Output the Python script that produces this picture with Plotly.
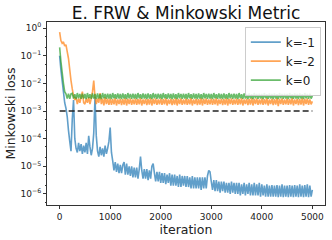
import numpy as np
import plotly.graph_objects as go

iterations = list(range(0, 5001, 25))

# log10 of Minkowski loss (every 25 iterations)
k_m1_log10 = [
    -1.0, -1.5, -1.9, -2.3, -2.7, -2.9, -3.2, -3.7, -4.1, -4.45,
    -3.3, -2.6, -4.0, -4.35, -4.5, -4.15, -4.45, -4.2, -4.55, -4.25,
    -4.5, -4.15, -4.55, -3.9, -4.3, -4.6, -4.35, -3.8, -2.5, -3.9,
    -4.45, -4.65, -4.3, -4.6, -4.35, -4.65, -4.25, -4.55, -4.35, -4.1,
    -3.6, -4.5, -4.8, -5.15, -4.85, -5.2, -4.9, -5.25, -4.95, -5.25,
    -4.95, -4.85, -5.3, -4.9, -5.3, -5.0, -5.35, -5.0, -5.4, -5.05,
    -5.4, -5.05, -5.45, -5.1, -4.65, -5.15, -5.45, -5.1, -5.45, -5.1,
    -5.5, -5.15, -5.45, -5.0, -4.9, -5.25, -5.55, -5.2, -5.55, -5.2,
    -5.6, -5.25, -5.6, -5.25, -5.65, -5.3, -5.6, -5.25, -5.7, -5.3,
    -5.7, -5.3, -5.7, -5.35, -5.75, -5.3, -5.75, -5.35, -5.7, -5.35,
    -5.75, -5.35, -5.75, -5.4, -5.8, -5.35, -5.8, -5.4, -5.8, -5.4,
    -5.8, -5.4, -5.85, -5.4, -5.8, -5.4, -5.8, -5.35, -5.15, -5.2,
    -5.55, -5.85, -5.5, -5.9, -5.5, -5.9, -5.55, -5.95, -5.55, -5.9,
    -5.55, -5.95, -5.6, -5.95, -5.6, -6.0, -5.55, -5.95, -5.6, -6.0,
    -5.6, -6.0, -5.6, -6.05, -5.65, -6.0, -5.6, -6.05, -5.65, -6.0,
    -5.6, -6.05, -5.65, -6.05, -5.6, -6.05, -5.65, -6.05, -5.6, -6.1,
    -5.65, -6.05, -5.7, -6.1, -5.65, -6.1, -5.7, -6.1, -5.68, -6.1,
    -5.7, -6.1, -5.68, -6.12, -5.7, -6.1, -5.65, -6.12, -5.7, -6.1,
    -5.7, -6.12, -5.68, -6.1, -5.7, -6.12, -5.68, -6.1, -5.7, -6.12,
    -5.65, -6.1, -5.7, -6.12, -5.68, -6.1, -5.65, -6.12, -5.7, -6.1,
    -5.85,
]
k_m2_log10 = [
    -0.15, -0.45, -0.55, -0.5, -0.65, -0.6, -0.85, -1.1, -1.5, -1.9,
    -2.2, -2.45, -2.6, -2.5, -2.75, -2.55, -2.7, -2.5, -2.3, -2.7,
    -2.75, -2.55, -2.7, -2.5, -2.75, -2.55, -2.3, -1.9, -2.5, -2.75,
    -2.55, -2.7, -2.35, -2.75, -2.55, -2.8, -2.5, -2.75, -2.55, -2.78,
    -2.54, -2.78, -2.57, -2.76, -2.53, -2.8, -2.58, -2.75, -2.55, -2.79,
    -2.57, -2.77, -2.53, -2.8, -2.56, -2.75, -2.54, -2.78, -2.58, -2.76,
    -2.54, -2.78, -2.57, -2.76, -2.53, -2.8, -2.58, -2.75, -2.55, -2.79,
    -2.57, -2.77, -2.53, -2.8, -2.56, -2.75, -2.54, -2.78, -2.58, -2.76,
    -2.54, -2.78, -2.57, -2.76, -2.53, -2.8, -2.58, -2.75, -2.55, -2.79,
    -2.57, -2.77, -2.53, -2.8, -2.56, -2.75, -2.54, -2.78, -2.58, -2.76,
    -2.54, -2.78, -2.57, -2.76, -2.53, -2.8, -2.58, -2.75, -2.55, -2.79,
    -2.57, -2.77, -2.53, -2.8, -2.56, -2.75, -2.54, -2.78, -2.58, -2.76,
    -2.54, -2.78, -2.57, -2.76, -2.53, -2.8, -2.58, -2.75, -2.55, -2.79,
    -2.57, -2.77, -2.53, -2.8, -2.56, -2.75, -2.54, -2.78, -2.58, -2.76,
    -2.54, -2.78, -2.57, -2.76, -2.53, -2.8, -2.58, -2.75, -2.55, -2.79,
    -2.57, -2.77, -2.53, -2.8, -2.56, -2.75, -2.54, -2.78, -2.58, -2.76,
    -2.54, -2.78, -2.57, -2.76, -2.53, -2.8, -2.58, -2.75, -2.55, -2.79,
    -2.57, -2.77, -2.53, -2.82, -2.56, -2.75, -2.54, -2.78, -2.58, -2.76,
    -2.54, -2.78, -2.57, -2.76, -2.53, -2.8, -2.58, -2.75, -2.55, -2.79,
    -2.57, -2.77, -2.53, -2.8, -2.56, -2.75, -2.54, -2.78, -2.58, -2.76,
    -2.65,
]
k_0_log10 = [
    -0.7, -1.2, -1.6, -2.0, -2.3, -2.38, -2.55, -2.37, -2.56, -2.38,
    -2.36, -2.55, -2.39, -2.57, -2.35, -2.54, -2.38, -2.56, -2.37, -2.55,
    -2.38, -2.57, -2.35, -2.54, -2.39, -2.56, -2.36, -2.55, -2.38, -2.57,
    -2.36, -2.55, -2.39, -2.57, -2.35, -2.54, -2.38, -2.56, -2.37, -2.55,
    -2.38, -2.57, -2.35, -2.54, -2.39, -2.56, -2.36, -2.55, -2.38, -2.57,
    -2.36, -2.55, -2.39, -2.57, -2.35, -2.54, -2.38, -2.56, -2.37, -2.55,
    -2.38, -2.57, -2.35, -2.54, -2.39, -2.56, -2.36, -2.55, -2.38, -2.57,
    -2.36, -2.55, -2.39, -2.57, -2.35, -2.54, -2.38, -2.56, -2.37, -2.55,
    -2.38, -2.57, -2.35, -2.54, -2.39, -2.56, -2.36, -2.55, -2.38, -2.57,
    -2.36, -2.55, -2.39, -2.57, -2.35, -2.54, -2.38, -2.56, -2.37, -2.55,
    -2.38, -2.57, -2.35, -2.54, -2.39, -2.56, -2.36, -2.55, -2.38, -2.57,
    -2.36, -2.55, -2.39, -2.57, -2.35, -2.54, -2.38, -2.56, -2.37, -2.55,
    -2.38, -2.57, -2.35, -2.54, -2.39, -2.56, -2.36, -2.55, -2.38, -2.57,
    -2.36, -2.55, -2.39, -2.57, -2.35, -2.54, -2.38, -2.56, -2.37, -2.55,
    -2.38, -2.57, -2.35, -2.54, -2.39, -2.56, -2.36, -2.55, -2.38, -2.57,
    -2.36, -2.55, -2.39, -2.57, -2.35, -2.54, -2.38, -2.56, -2.37, -2.55,
    -2.38, -2.57, -2.35, -2.54, -2.39, -2.56, -2.36, -2.55, -2.38, -2.57,
    -2.36, -2.55, -2.39, -2.57, -2.35, -2.54, -2.38, -2.56, -2.37, -2.55,
    -2.38, -2.57, -2.35, -2.54, -2.39, -2.56, -2.36, -2.55, -2.38, -2.57,
    -2.36, -2.55, -2.39, -2.57, -2.35, -2.54, -2.38, -2.56, -2.37, -2.55,
    -2.45,
]
threshold = 1e-3
series_names = ["k=-1", "k=-2", "k=0"]
series_colors = ["#1f77b4", "#ff7f0e", "#2ca02c"]
ytick_vals = [1e0, 1e-1, 1e-2, 1e-3, 1e-4, 1e-5, 1e-6]
ytick_text = ["10<sup>0</sup>", "10<sup>−1</sup>", "10<sup>−2</sup>", "10<sup>−3</sup>",
              "10<sup>−4</sup>", "10<sup>−5</sup>", "10<sup>−6</sup>"]
xtick_vals = [0, 1000, 2000, 3000, 4000, 5000]

fig = go.Figure()
for name, color, logs in zip(series_names, series_colors, [k_m1_log10, k_m2_log10, k_0_log10]):
    fig.add_trace(go.Scatter(
        x=iterations[:len(logs)], y=10 ** np.array(logs), mode="lines", name=name,
        line=dict(color=color, width=1.6, simplify=False), opacity=0.7,
    ))
fig.add_trace(go.Scatter(
    x=[iterations[0], iterations[-1]], y=[threshold, threshold], mode="lines",
    line=dict(color="#222222", width=1.3, dash="6px,3px"), showlegend=False,
))

font = "DejaVu Sans, sans-serif"
fig.update_layout(
    width=332, height=240,
    margin=dict(l=47, r=7, t=22, b=35),
    paper_bgcolor="white", plot_bgcolor="white",
    font=dict(family=font, color="#222222"),
    title=dict(text="E. FRW & Minkowski Metric", x=0.5, xref="paper", y=0.945, yref="container",
               xanchor="center", yanchor="middle", font=dict(size=17, color="#111111")),
    legend=dict(x=0.985, y=0.975, xanchor="right", yanchor="top",
                bgcolor="rgba(255,255,255,0.85)", bordercolor="#cccccc", borderwidth=1,
                font=dict(size=12, color="#222222"), tracegroupgap=0),
    showlegend=True,
)
fig.update_xaxes(
    range=[-250, 5250], tickvals=xtick_vals, ticks="outside", ticklen=3, tickcolor="#333333",
    tickfont=dict(size=9), showgrid=False, zeroline=False,
    showline=True, linecolor="#333333", linewidth=1, mirror=True,
    title=dict(text="iteration", font=dict(size=12.5), standoff=2),
)
fig.update_yaxes(
    type="log", range=[-6.4, 0.22], tickvals=ytick_vals, ticktext=ytick_text,
    ticks="outside", ticklen=3, tickcolor="#333333", tickfont=dict(size=9),
    minor=dict(ticks="outside", ticklen=1.5, tickcolor="#333333", showgrid=False),
    showgrid=False, zeroline=False,
    showline=True, linecolor="#333333", linewidth=1, mirror=True,
    title=dict(text="Minkowski loss", font=dict(size=12.5), standoff=2),
)
fig.write_html("out.html", config={"displayModeBar": False})

with open("out.html", encoding="utf-8") as f:
    html = f.read()
html = html.replace("<body>", '<body style="margin:0;padding:0;overflow:hidden">', 1)
with open("out.html", "w", encoding="utf-8") as f:
    f.write(html)
